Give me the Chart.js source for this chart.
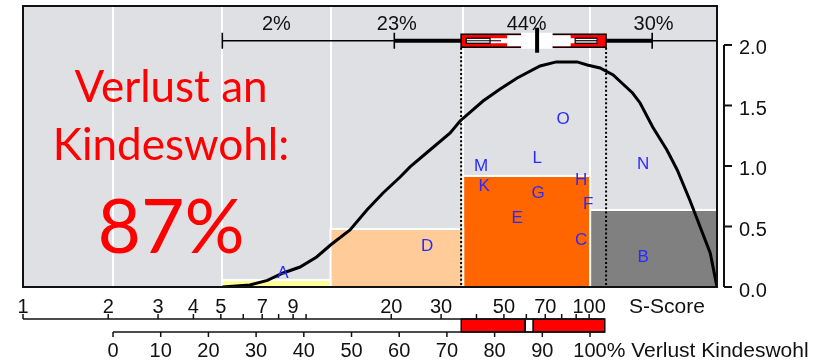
<!DOCTYPE html>
<html><head><meta charset="utf-8">
<script src="https://cdn.jsdelivr.net/npm/chart.js@4/dist/chart.umd.min.js"></script>
<style>html,body{margin:0;padding:0;background:#fff;overflow:hidden}canvas{display:block}</style>
</head><body>
<canvas id="c" width="813" height="361"></canvas>
<script>
// ---------- data (S-score is logarithmic) ----------
const classEdges   = [5.06, 12.2, 35.9, 100.8, 283];
const classHeights = [0.058, 0.479, 0.917, 0.636];
const classShares  = ['2%', '23%', '44%', '30%'];
const gridLinesS   = [2.08, 5.06, 12.2, 35.9, 100.8];

const curveS = [5.06, 6.33, 7.3, 8.3, 9.52, 10.9, 12.2, 14.3, 16.4, 18.7, 21.5, 23.3, 27.4, 32.3, 35.0, 42.2, 48.5, 55.7, 67.1, 76.6, 90.7, 98.5, 109.3, 121.6, 142.4, 151.4, 167.7, 188.3, 204.8, 227.5, 246.8, 267.8, 283];
const curveV = [0, 0.016, 0.055, 0.116, 0.165, 0.248, 0.347, 0.471, 0.636, 0.777, 0.909, 0.992, 1.132, 1.273, 1.372, 1.537, 1.636, 1.727, 1.826, 1.86, 1.86, 1.835, 1.81, 1.752, 1.603, 1.521, 1.322, 1.132, 0.967, 0.711, 0.496, 0.281, 0];

const letterNames = ['A','B','C','D','E','F','G','H','K','L','M','N','O'];
const letterS = [8.29, 155.2, 93.7, 26.8, 55.7, 99.2, 66.0, 93.7, 42.6, 65.5, 41.5, 155.2, 81.0];
const letterV = [0.124, 0.256, 0.397, 0.347, 0.579, 0.694, 0.785, 0.893, 0.843, 1.074, 1.008, 1.025, 1.397];

// boxplot: whisker low, thick start, box low, median, box high, thick end
const boxS = [5.06, 20.5, 35.3, 65.5, 114.8, 167];
const boxLevel = 2.035;
const ciS = [36.8, 51.3, 57.5, 74.0, 85.7, 106.7];

const sTickLabels = [1, 2, 3, 4, 5, 7, 9, 20, 30, 50, 70, 100];
const sMinorTicks = [6, 8, 10, 40, 60, 80, 90];
const pctTicks = [0, 10, 20, 30, 40, 50, 60, 70, 80, 90, 100];
const lossBands = [73.0, 86.4, 88.1, 103.1];
const yTicks = [0, 0.5, 1, 1.5, 2];

const headline = ['Verlust an', 'Kindeswohl:', '87%'];

// ---------- styles ----------
const classColors = ['#ffff99', '#ffcc99', '#ff6600', '#808080'];
const AX_FONT = "'Liberation Sans', Arial, sans-serif";

const datasets = [];
datasets.push({
  label: 'density', data: curveS.map((s, i) => ({x: s, y: curveV[i]})),
  borderColor: '#000', borderWidth: 3, pointRadius: 0, tension: 0, fill: false, order: 0
});
classHeights.forEach((h, i) => {
  const a = classEdges[i], b = classEdges[i + 1];
  datasets.push({
    label: 'class' + i,
    data: [{x: a, y: 0}, {x: a, y: h}, {x: b, y: h}, {x: b, y: 0}],
    backgroundColor: classColors[i], borderColor: '#ffffff', borderWidth: 2,
    pointRadius: 0, tension: 0, fill: 'origin', order: 2
  });
});
datasets.push({
  label: 'letters', data: letterS.map((s, i) => ({x: s, y: letterV[i]})),
  showLine: false, pointRadius: 0, order: 1
});

const overlay = {
  id: 'overlay',
  beforeDraw(chart) {
    const {ctx, chartArea: a, scales: {x}} = chart;
    ctx.save();
    ctx.fillStyle = '#fff'; ctx.fillRect(0, 0, chart.width, chart.height);
    ctx.fillStyle = '#dfe0e4'; ctx.fillRect(a.left, a.top, a.right - a.left, a.bottom - a.top);
    ctx.strokeStyle = '#fff'; ctx.lineWidth = 2;
    gridLinesS.forEach(s => {
      const px = Math.round(x.getPixelForValue(s));
      ctx.beginPath(); ctx.moveTo(px, a.top); ctx.lineTo(px, a.bottom); ctx.stroke();
    });
    ctx.restore();
  },
  afterDatasetsDraw(chart) {
    const {ctx, chartArea: a, scales: {x, y, xp}} = chart;
    const X = s => x.getPixelForValue(s);
    const cy = y.getPixelForValue(boxLevel);
    ctx.save();

    // dotted lines at box edges
    ctx.strokeStyle = '#000'; ctx.lineWidth = 2; ctx.setLineDash([2, 2.2]);
    [boxS[2], boxS[4]].forEach(s => {
      const px = X(s);
      ctx.beginPath(); ctx.moveTo(px, cy + 7); ctx.lineTo(px, a.bottom); ctx.stroke();
    });
    ctx.setLineDash([]);

    // letters
    const lm = chart.getDatasetMeta(datasets.length - 1);
    ctx.fillStyle = '#2a2aff'; ctx.font = '17px ' + AX_FONT;
    ctx.textAlign = 'center'; ctx.textBaseline = 'middle';
    lm.data.forEach((pt, i) => ctx.fillText(letterNames[i], pt.x, pt.y + 1));

    // boxplot on top
    ctx.strokeStyle = '#000';
    ctx.lineWidth = 1.5;
    ctx.beginPath(); ctx.moveTo(X(boxS[0]), cy); ctx.lineTo(X(boxS[1]), cy); ctx.stroke();
    ctx.beginPath(); ctx.moveTo(X(boxS[5]), cy); ctx.lineTo(a.right, cy); ctx.stroke();
    ctx.lineWidth = 4;
    ctx.beginPath(); ctx.moveTo(X(boxS[1]), cy); ctx.lineTo(X(boxS[2]), cy); ctx.stroke();
    ctx.beginPath(); ctx.moveTo(X(boxS[4]), cy); ctx.lineTo(X(boxS[5]), cy); ctx.stroke();
    ctx.lineWidth = 1.6;
    [boxS[0], boxS[1], boxS[5]].forEach(s => {
      ctx.beginPath(); ctx.moveTo(X(s), cy - 8); ctx.lineTo(X(s), cy + 8); ctx.stroke();
    });
    // box
    ctx.fillStyle = '#ff0000';
    ctx.fillRect(X(boxS[2]), cy - 6.5, X(boxS[4]) - X(boxS[2]), 13);
    ctx.lineWidth = 1.5;
    ctx.strokeRect(X(boxS[2]), cy - 6.5, X(boxS[4]) - X(boxS[2]), 13);
    // white interval shape
    const hw = [2.5, 5.5, 8, 5.5, 2.5];
    ctx.fillStyle = '#fff';
    for (let i = 0; i < 5; i++) {
      ctx.fillRect(X(ciS[i]), cy - hw[i], X(ciS[i + 1]) - X(ciS[i]) + 0.5, hw[i] * 2);
    }
    ctx.lineWidth = 1.2;
    ctx.strokeRect(X(ciS[0]), cy - 2.5, X(ciS[1]) - X(ciS[0]) - 17, 5);
    ctx.strokeRect(X(ciS[4]) + 5, cy - 2.5, X(ciS[5]) - X(ciS[4]) - 5, 5);
    ctx.beginPath(); ctx.moveTo(X(ciS[0]), cy); ctx.lineTo(X(ciS[1]) - 6, cy); ctx.stroke();
    ctx.beginPath(); ctx.moveTo(X(ciS[4]) + 5, cy); ctx.lineTo(X(ciS[5]), cy); ctx.stroke();
    // median
    ctx.lineWidth = 4;
    ctx.beginPath(); ctx.moveTo(X(boxS[3]), cy - 13); ctx.lineTo(X(boxS[3]), cy + 12); ctx.stroke();

    // class shares on top
    ctx.fillStyle = '#111'; ctx.font = '20px ' + AX_FONT;
    ctx.textAlign = 'center'; ctx.textBaseline = 'alphabetic';
    classShares.forEach((t, i) => {
      const px = (X(classEdges[i]) + X(classEdges[i + 1])) / 2;
      ctx.fillText(t, px, a.top + 23.5);
    });

    // headline text
    ctx.fillStyle = '#ff0000'; ctx.textAlign = 'center';
    ctx.font = "44px Lato, 'Open Sans', sans-serif";
    ctx.fillText(headline[0], 171, 102);
    ctx.fillText(headline[1], 171, 160);
    ctx.font = "75px Lato, 'Open Sans', sans-serif";
    ctx.fillText(headline[2], 171, 253);

    // frame
    ctx.strokeStyle = '#111'; ctx.lineWidth = 2;
    ctx.strokeRect(a.left, a.top, a.right - a.left, a.bottom - a.top);

    // right y axis
    const ax = a.right + 7;
    ctx.lineWidth = 2;
    ctx.beginPath(); ctx.moveTo(ax, y.getPixelForValue(yTicks[yTicks.length - 1])); ctx.lineTo(ax, y.getPixelForValue(yTicks[0])); ctx.stroke();
    ctx.font = '20px ' + AX_FONT; ctx.textAlign = 'left'; ctx.fillStyle = '#111';
    yTicks.forEach(v => {
      const py = y.getPixelForValue(v);
      ctx.beginPath(); ctx.moveTo(ax, py); ctx.lineTo(ax + 8, py); ctx.stroke();
      ctx.fillText(v.toFixed(1), ax + 15, py + 9.5);
    });

    // loss bands between the two lower axes
    const sAxisY = a.bottom + 32, pAxisY = a.bottom + 45;
    ctx.lineWidth = 1.5;
    ctx.fillStyle = '#ff0000';
    ctx.fillRect(xp.getPixelForValue(lossBands[0]), sAxisY, xp.getPixelForValue(lossBands[1]) - xp.getPixelForValue(lossBands[0]), pAxisY - sAxisY);
    ctx.fillRect(xp.getPixelForValue(lossBands[2]), sAxisY, xp.getPixelForValue(lossBands[3]) - xp.getPixelForValue(lossBands[2]), pAxisY - sAxisY);
    [[0, 1], [1, 2], [2, 3]].forEach(([i, j]) => {
      ctx.strokeRect(xp.getPixelForValue(lossBands[i]), sAxisY, xp.getPixelForValue(lossBands[j]) - xp.getPixelForValue(lossBands[i]), pAxisY - sAxisY);
    });

    // S-score axis (labels above line, ticks up)
    const sEnd = xp.getPixelForValue(lossBands[3]);
    ctx.beginPath(); ctx.moveTo(X(sTickLabels[0]), sAxisY); ctx.lineTo(sEnd, sAxisY); ctx.stroke();
    ctx.textAlign = 'center'; ctx.fillStyle = '#111';
    sTickLabels.forEach(s => {
      const px = X(s);
      ctx.beginPath(); ctx.moveTo(px, sAxisY); ctx.lineTo(px, sAxisY - 5); ctx.stroke();
      ctx.fillText(String(s), px, a.bottom + 26);
    });
    sMinorTicks.forEach(s => {
      const px = X(s);
      ctx.beginPath(); ctx.moveTo(px, sAxisY); ctx.lineTo(px, sAxisY - 5); ctx.stroke();
    });
    ctx.textAlign = 'left'; ctx.font = '21px ' + AX_FONT;
    ctx.fillText('S-Score', 629, a.bottom + 26);

    // loss-percentage axis (ticks down, labels below)
    ctx.font = '20px ' + AX_FONT; ctx.textAlign = 'center';
    ctx.beginPath(); ctx.moveTo(xp.getPixelForValue(pctTicks[0]), pAxisY); ctx.lineTo(sEnd, pAxisY); ctx.stroke();
    pctTicks.forEach(v => {
      const px = xp.getPixelForValue(v);
      ctx.beginPath(); ctx.moveTo(px, pAxisY); ctx.lineTo(px, pAxisY + 5); ctx.stroke();
      ctx.fillText(String(v), px, a.bottom + 70);
    });
    const lastPx = xp.getPixelForValue(pctTicks[pctTicks.length - 1]);
    const halfW = ctx.measureText(String(pctTicks[pctTicks.length - 1])).width / 2;
    ctx.textAlign = 'left'; ctx.font = '21px ' + AX_FONT;
    ctx.fillText('% Verlust Kindeswohl', lastPx + halfW, a.bottom + 70);

    ctx.restore();
  }
};

new Chart(document.getElementById('c'), {
  type: 'line',
  data: {datasets},
  options: {
    responsive: false, animation: false, devicePixelRatio: 1, events: [],
    layout: {padding: {left: 23, right: 96, top: 6, bottom: 74}},
    plugins: {legend: {display: false}, tooltip: {enabled: false}},
    scales: {
      x: {type: 'logarithmic', min: 1, max: 283, display: false},
      y: {type: 'linear', min: 0, max: 2.322, display: false},
      xp: {type: 'linear', axis: 'x', position: 'bottom', min: -18.87, max: 126.62, display: false}
    }
  },
  plugins: [overlay]
});
</script>
</body></html>
